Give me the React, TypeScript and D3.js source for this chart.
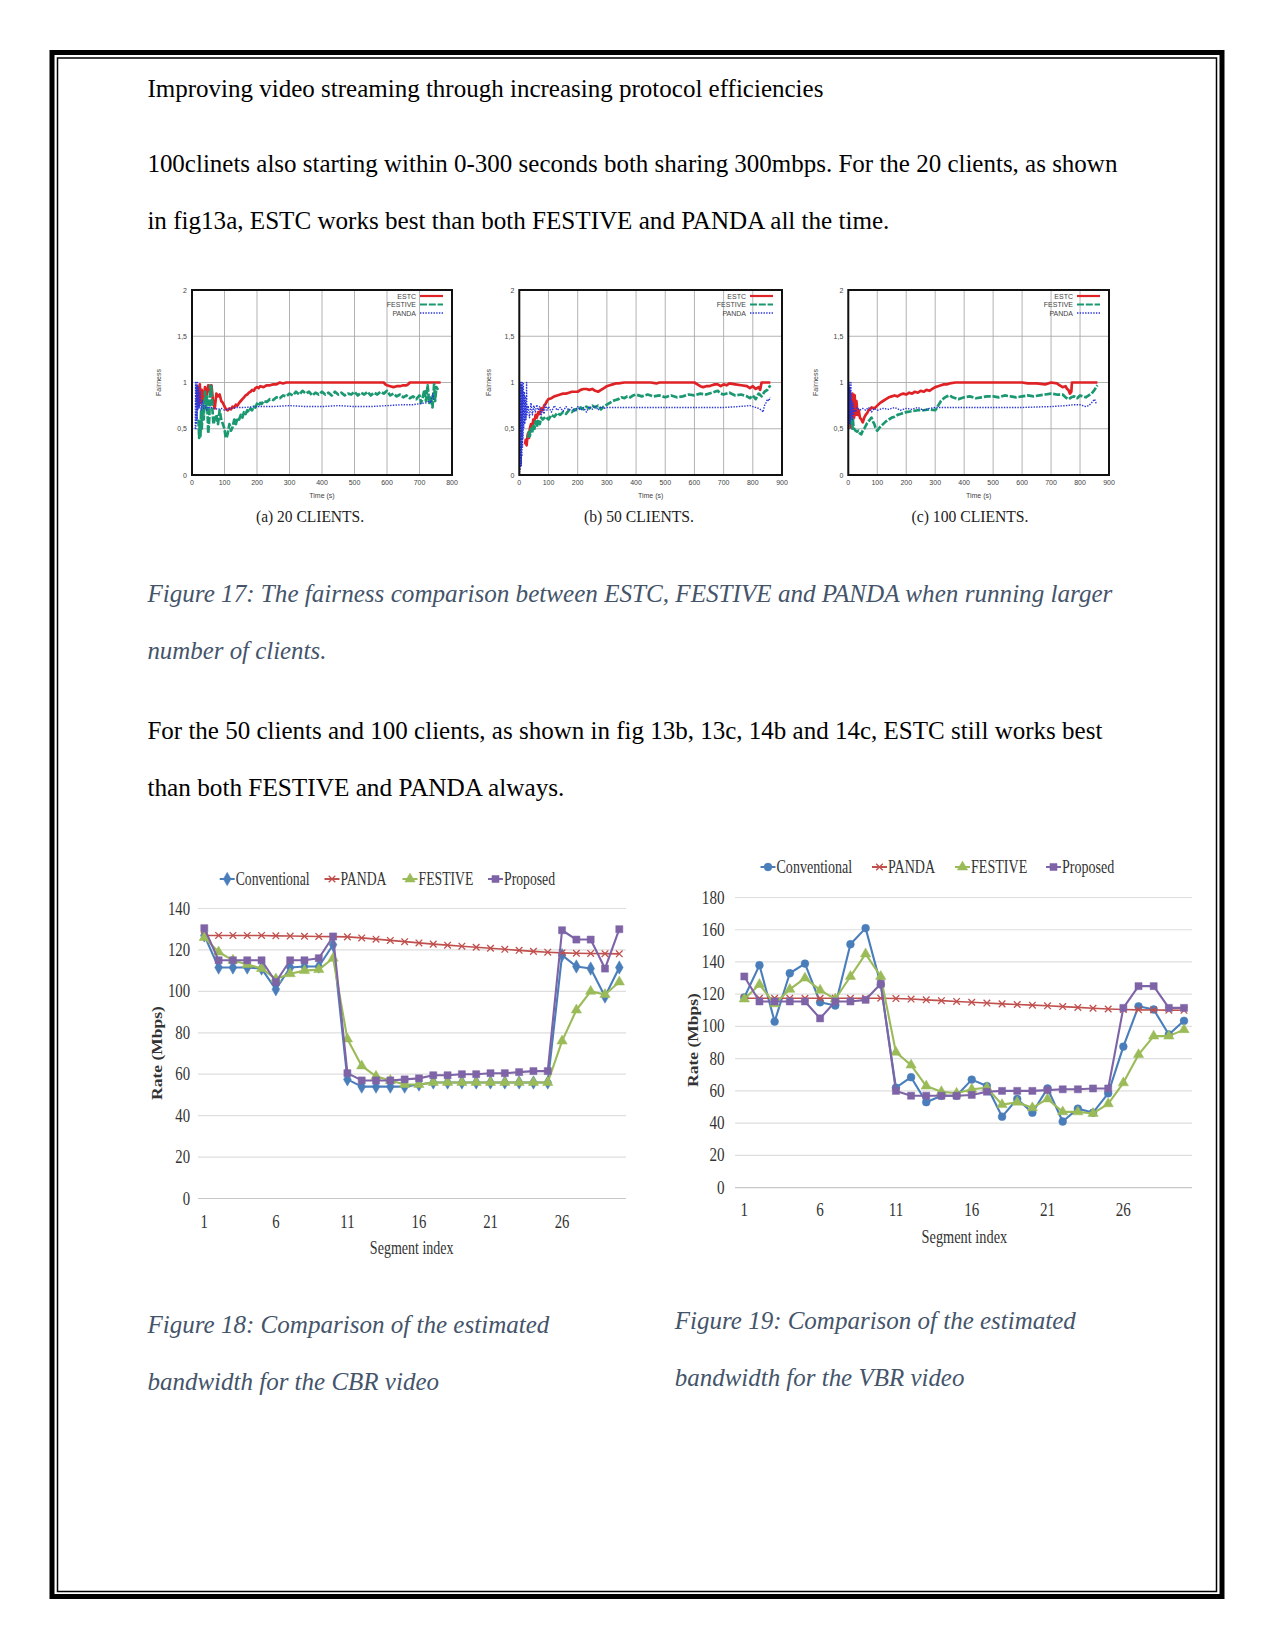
import React from "react";
import * as d3 from "d3";

type Pt = [number, number];

// ---------------- Page text ----------------
const headerText = "Improving video streaming through increasing protocol efficiencies";
const bodyLines1 = [
  "100clinets also starting within 0-300 seconds both sharing 300mbps. For the 20 clients, as shown",
  "in fig13a, ESTC works best than both FESTIVE and PANDA all the time.",
];
const caption17 = [
  "Figure 17: The fairness comparison between ESTC, FESTIVE and PANDA when running larger",
  "number of clients.",
];
const bodyLines2 = [
  "For the 50 clients and 100 clients, as shown in fig 13b, 13c, 14b and 14c, ESTC still works best",
  "than both FESTIVE and PANDA always.",
];
const caption18 = ["Figure 18: Comparison of the estimated", "bandwidth for the CBR video"];
const caption19 = ["Figure 19: Comparison of the estimated", "bandwidth for the VBR video"];

// ---------------- Figure 17 (fairness) ----------------
const fairTicksY = [0, 0.5, 1, 1.5, 2];
const fairTickLabelsY = ["0", "0,5", "1", "1,5", "2"];
const timeTicks800 = [0, 100, 200, 300, 400, 500, 600, 700, 800];
const timeTicks900 = [0, 100, 200, 300, 400, 500, 600, 700, 800, 900];
const fairNames = ["ESTC", "FESTIVE", "PANDA"];
const fairCaptions = ["(a)  20 CLIENTS.", "(b)  50 CLIENTS.", "(c)  100 CLIENTS."];

const aEstc: Pt[] = [[15,0.8],[18,0.95],[21,0.75],[24,0.98],[27,0.78],[30,0.92],[35,0.8],[40,0.95],[45,0.85],[50,0.97],[55,0.9],[60,0.97],[65,0.78],[70,0.72],[75,0.88],[80,0.85],[85,0.87],[90,0.8],[95,0.78],[100,0.74],[105,0.71],[110,0.7],[115,0.72],[120,0.71],[125,0.74],[130,0.73],[135,0.76],[140,0.75],[145,0.78],[150,0.8],[155,0.82],[160,0.84],[165,0.86],[170,0.87],[175,0.89],[180,0.9],[185,0.92],[190,0.91],[195,0.94],[200,0.95],[205,0.94],[210,0.96],[220,0.95],[230,0.97],[240,0.97],[250,0.98],[260,0.98],[270,1.0],[280,0.99],[290,1.0],[300,1.0],[400,1.0],[500,1.0],[590,1.0],[595,0.98],[600,0.97],[610,0.96],[620,0.95],[630,0.96],[640,0.96],[650,0.97],[660,0.97],[665,0.98],[670,1.0],[700,1.0],[740,1.0],[765,1.0]];
const aFestive: Pt[] = [[20,0.6],[22,0.4],[24,0.55],[26,0.42],[28,0.7],[30,0.5],[33,0.75],[36,0.6],[40,0.9],[43,0.72],[46,0.85],[50,0.45],[53,0.6],[56,0.97],[58,0.9],[60,0.95],[63,0.7],[66,0.55],[70,0.6],[75,0.65],[80,0.55],[85,0.7],[90,0.6],[95,0.55],[100,0.5],[103,0.42],[106,0.4],[110,0.45],[115,0.55],[120,0.48],[125,0.52],[130,0.6],[135,0.55],[140,0.62],[145,0.6],[150,0.65],[155,0.62],[160,0.68],[165,0.66],[170,0.7],[175,0.68],[180,0.72],[185,0.7],[190,0.74],[195,0.73],[200,0.77],[205,0.75],[210,0.78],[215,0.77],[220,0.8],[230,0.79],[240,0.82],[250,0.81],[260,0.84],[270,0.83],[280,0.86],[290,0.85],[300,0.88],[310,0.86],[320,0.9],[330,0.87],[340,0.91],[350,0.88],[360,0.9],[370,0.86],[380,0.89],[390,0.87],[400,0.9],[410,0.87],[420,0.89],[430,0.86],[440,0.9],[450,0.87],[460,0.89],[470,0.86],[480,0.88],[490,0.87],[500,0.9],[510,0.86],[520,0.89],[530,0.87],[540,0.9],[550,0.86],[560,0.89],[570,0.87],[580,0.9],[590,0.88],[600,0.91],[610,0.86],[620,0.88],[630,0.85],[640,0.87],[650,0.84],[660,0.86],[670,0.83],[680,0.85],[690,0.82],[700,0.86],[705,0.78],[710,0.84],[715,0.92],[720,0.8],[725,0.97],[730,0.78],[735,0.85],[740,0.73],[745,0.98],[748,0.8],[752,0.95],[757,0.92]];
const aPanda: Pt[] = [[10,0.5],[11,1.0],[12,0.5],[13,1.0],[14,0.55],[15,0.98],[16,0.6],[17,1.0],[18,0.7],[20,0.95],[22,0.72],[25,0.9],[28,0.7],[32,0.8],[36,0.72],[40,0.75],[45,0.7],[50,0.74],[55,0.72],[60,0.73],[70,0.72],[80,0.71],[90,0.72],[100,0.7],[110,0.71],[120,0.72],[140,0.73],[160,0.73],[200,0.74],[250,0.74],[300,0.75],[350,0.74],[400,0.74],[450,0.75],[500,0.74],[550,0.74],[600,0.75],[650,0.76],[680,0.76],[700,0.77],[720,0.78],[730,0.8],[735,0.78],[740,0.88],[745,0.8]];

const bEstc: Pt[] = [[20,0.33],[22,0.38],[25,0.32],[28,0.42],[30,0.45],[33,0.4],[36,0.5],[40,0.55],[44,0.5],[48,0.6],[52,0.58],[56,0.65],[60,0.62],[65,0.68],[70,0.66],[75,0.72],[80,0.7],[85,0.75],[90,0.77],[95,0.8],[100,0.82],[110,0.83],[120,0.85],[130,0.86],[140,0.87],[150,0.88],[160,0.88],[170,0.89],[180,0.9],[190,0.9],[200,0.9],[210,0.92],[220,0.93],[230,0.93],[240,0.92],[250,0.93],[260,0.91],[270,0.9],[280,0.92],[290,0.94],[300,0.96],[310,0.97],[320,0.98],[330,0.99],[340,0.99],[360,1.0],[400,1.0],[450,1.0],[470,0.99],[480,1.0],[550,1.0],[600,1.0],[610,0.98],[620,0.96],[630,0.95],[640,0.96],[650,0.96],[660,0.97],[670,0.98],[680,0.98],[690,0.96],[700,0.98],[710,0.97],[720,0.99],[740,0.98],[760,0.97],[780,0.96],[790,0.94],[800,0.96],[810,0.93],[820,0.95],[825,0.92],[830,1.0],[860,1.0]];
const bFestive: Pt[] = [[30,0.4],[33,0.48],[36,0.42],[40,0.5],[44,0.45],[48,0.55],[52,0.5],[56,0.58],[60,0.52],[65,0.6],[70,0.55],[75,0.62],[80,0.6],[90,0.63],[100,0.6],[110,0.65],[120,0.63],[130,0.67],[140,0.65],[150,0.68],[160,0.66],[170,0.7],[180,0.68],[190,0.71],[200,0.7],[210,0.73],[220,0.71],[230,0.74],[240,0.72],[250,0.75],[260,0.73],[270,0.75],[280,0.71],[290,0.74],[300,0.76],[310,0.78],[320,0.8],[330,0.81],[340,0.82],[350,0.84],[360,0.83],[370,0.85],[380,0.84],[390,0.86],[400,0.87],[420,0.85],[440,0.87],[460,0.85],[480,0.86],[500,0.84],[520,0.86],[540,0.84],[560,0.85],[580,0.87],[600,0.86],[620,0.88],[640,0.87],[660,0.89],[680,0.91],[690,0.88],[700,0.87],[720,0.89],[740,0.86],[760,0.87],[780,0.85],[790,0.83],[800,0.86],[810,0.82],[820,0.88],[830,0.85],[840,0.9],[850,0.92],[860,0.97]];
const bPanda: Pt[] = [[1,0],[2,1],[3,0.05],[4,1],[5,0.1],[6,0.98],[7,0.1],[8,1],[9,0.2],[10,1],[11,0.3],[12,0.95],[13,0.4],[14,1],[15,0.5],[17,0.9],[19,0.55],[21,0.85],[23,0.6],[25,1.0],[26,0.65],[30,0.75],[35,0.62],[40,0.78],[45,0.65],[50,0.75],[55,0.68],[60,0.76],[65,0.7],[70,0.74],[75,0.64],[80,0.72],[85,0.66],[90,0.76],[95,0.7],[100,0.74],[110,0.68],[120,0.75],[130,0.7],[140,0.73],[150,0.69],[160,0.74],[170,0.7],[180,0.73],[190,0.69],[200,0.74],[210,0.7],[220,0.73],[230,0.68],[240,0.74],[250,0.71],[260,0.75],[270,0.7],[280,0.74],[290,0.72],[300,0.73],[400,0.73],[500,0.73],[600,0.73],[700,0.73],[750,0.74],[790,0.75],[800,0.74],[820,0.72],[830,0.7],[835,0.68],[840,0.75],[845,0.78],[850,0.82],[855,0.8],[860,0.84]];

const cEstc: Pt[] = [[8,0.5],[10,0.85],[12,0.55],[14,0.88],[16,0.6],[18,0.87],[20,0.62],[22,0.86],[25,0.65],[28,0.8],[32,0.65],[36,0.7],[40,0.62],[45,0.6],[50,0.57],[55,0.62],[60,0.65],[65,0.67],[70,0.7],[75,0.71],[80,0.73],[90,0.72],[100,0.75],[110,0.78],[120,0.8],[130,0.82],[140,0.84],[150,0.85],[160,0.86],[170,0.85],[180,0.87],[190,0.88],[200,0.87],[210,0.89],[220,0.88],[230,0.9],[240,0.89],[250,0.91],[260,0.9],[270,0.92],[280,0.91],[290,0.93],[300,0.95],[310,0.96],[320,0.97],[330,0.98],[340,0.98],[350,0.99],[370,1.0],[400,1.0],[500,1.0],[600,1.0],[620,0.99],[650,0.99],[680,0.98],[700,1.0],[720,0.99],[730,0.97],[740,0.95],[750,0.96],[755,0.93],[760,0.92],[765,0.88],[770,0.9],[772,1.0],[800,1.0],[860,1.0]];
const cFestive: Pt[] = [[10,0.55],[12,0.62],[14,0.5],[16,0.6],[18,0.52],[20,0.5],[25,0.48],[30,0.47],[35,0.48],[40,0.45],[45,0.44],[50,0.48],[55,0.5],[60,0.53],[65,0.56],[70,0.58],[75,0.6],[80,0.62],[85,0.58],[90,0.55],[95,0.5],[100,0.48],[105,0.5],[110,0.52],[120,0.55],[130,0.58],[140,0.6],[150,0.62],[160,0.63],[170,0.65],[180,0.66],[190,0.67],[200,0.68],[220,0.69],[240,0.7],[260,0.7],[280,0.71],[300,0.7],[305,0.72],[310,0.75],[320,0.8],[330,0.83],[340,0.85],[350,0.86],[360,0.84],[370,0.83],[380,0.82],[390,0.83],[400,0.84],[420,0.85],[440,0.83],[460,0.84],[480,0.85],[500,0.85],[520,0.84],[540,0.86],[560,0.85],[580,0.84],[600,0.85],[620,0.86],[640,0.85],[660,0.86],[680,0.87],[700,0.88],[720,0.87],[740,0.87],[750,0.84],[760,0.82],[770,0.84],[780,0.85],[790,0.83],[800,0.86],[810,0.85],[820,0.84],[830,0.86],[840,0.88],[850,0.92],[860,0.97]];
const cPanda: Pt[] = [[0,0.5],[1,1.0],[2,0.5],[3,1.0],[4,0.55],[5,0.95],[6,0.55],[7,0.9],[8,0.6],[9,1.0],[10,0.65],[12,0.8],[14,0.6],[16,0.78],[18,0.65],[20,0.72],[25,0.68],[30,0.73],[40,0.7],[50,0.72],[60,0.7],[70,0.73],[80,0.68],[90,0.72],[100,0.7],[120,0.72],[140,0.71],[160,0.73],[180,0.7],[200,0.72],[220,0.71],[240,0.73],[260,0.7],[280,0.72],[300,0.73],[400,0.73],[500,0.73],[600,0.73],[700,0.74],[750,0.75],[780,0.76],[800,0.76],[820,0.74],[830,0.75],[840,0.78],[850,0.82],[855,0.78],[860,0.77]];

// ---------------- Figures 18 / 19 (rate) ----------------
const segmentIndex = [1,2,3,4,5,6,7,8,9,10,11,12,13,14,15,16,17,18,19,20,21,22,23,24,25,26,27,28,29,30];
const segmentTicks = [1, 6, 11, 16, 21, 26];
const rateNames = ["Conventional", "PANDA", "FESTIVE", "Proposed"];
const cbrTicks = [0, 20, 40, 60, 80, 100, 120, 140];
const vbrTicks = [0, 20, 40, 60, 80, 100, 120, 140, 160, 180];

const cbrConventional = [127,111.5,111.5,111.5,111,101,111.5,112,112,122.5,57.5,54,54,54,54,55,56,56,56,56,56,56,56,56,56,117.5,112,111,97.5,111.5];
const cbrPanda = [127,127,127,127,127,126.8,126.7,126.6,126.5,126.4,126.3,125.8,125.2,124.6,124,123.4,122.8,122.3,121.8,121.3,120.8,120.3,119.8,119.3,118.9,118.6,118.4,118.3,118.2,118.1];
const cbrFestive = [126,119,115,113,111,106,108.5,110,110.5,116,77,64,59,57,55,55,56,56,56,56,56,56,56,56,56,76,91,100,98.5,104.5];
const cbrProposed = [130.5,115,115,115,115,104.5,115,115,116,126.5,60.5,57,57,57,57.5,58,59.5,59.5,60,60,60.5,60.5,61,61.5,61.5,129.5,125,125,111,130];

const vbrConventional = [118,138,103,133,139,115,113,151,161,126,62,68.5,53,57,57,67,63,44,55,46.5,61.5,41,49,46.5,58.5,87.5,112.5,110.5,95,103.5];
const vbrPanda = [117.5,117.5,117.5,117.5,117.5,117.5,117.5,117.5,117.5,117.5,117.3,117,116.5,116,115.5,115,114.5,114,113.6,113.2,112.8,112.3,111.8,111.3,110.8,110.5,110.3,110.2,110.1,110];
const vbrFestive = [117,126,114,123,130,122.5,117,131,145,131,84,76,63,59.5,58.5,61,62,51.5,53,49.5,55,47,47,46,52,65,82.5,94,94,98];
const vbrProposed = [131,115.5,115.5,115.5,115.5,105,115.5,115.5,116.5,126.5,60,57,57,57,57,57.5,59.5,60,60,60,60.5,61,61,61.5,61.5,111.5,125,125,111.5,111.5];

// ---------------- styles ----------------
const SERIF = "Liberation Serif";
const SANS = "Liberation Sans";
const CAPTION_COLOR = "#44546A";
const FAIR_COLORS = ["#df2226", "#1a9870", "#2b36d8"];
const RATE_COLORS = ["#4A7EBB", "#C0504D", "#9BBB59", "#7E64A6"];

function PageText({ x, y, text, width, italic }: { x: number; y: number; text: string; width: number; italic?: boolean }) {
  return (
    <text
      x={x}
      y={y}
      fontFamily={SERIF}
      fontSize={25}
      fontStyle={italic ? "italic" : "normal"}
      fill={italic ? CAPTION_COLOR : "#000"}
      textLength={width}
      lengthAdjust="spacingAndGlyphs"
    >
      {text}
    </text>
  );
}

type FairProps = {
  l: number; r: number; t: number; b: number;
  tMax: number; ticks: number[];
  estc: Pt[]; festive: Pt[]; panda: Pt[];
  caption: string; capX: number; capW: number; ylabX: number;
};

function Fairness({ l, r, t, b, tMax, ticks, estc, festive, panda, caption, capX, capW, ylabX }: FairProps) {
  const x = d3.scaleLinear().domain([0, tMax]).range([l, r]);
  const y = d3.scaleLinear().domain([0, 2]).range([b, t]);
  const line = d3.line<Pt>().x((d) => x(d[0])).y((d) => y(d[1]));
  const fs = 7;
  const dashes = [undefined, "7 1.8", "1.4 1.3"];
  const widths = [2.7, 2.7, 1.4];
  return (
    <g>
      {ticks.map((v) => (
        <line key={"gx" + v} x1={x(v)} x2={x(v)} y1={t} y2={b} stroke="#aaaaaa" strokeWidth={0.9} />
      ))}
      {fairTicksY.map((v) => (
        <line key={"gy" + v} x1={l} x2={r} y1={y(v)} y2={y(v)} stroke="#aaaaaa" strokeWidth={0.9} />
      ))}
      {[estc, festive, panda].map((s, i) => (
        <path key={"s" + i} d={line(s) || undefined} fill="none" stroke={FAIR_COLORS[i]} strokeWidth={widths[i]} strokeDasharray={dashes[i]} strokeLinejoin="round" />
      ))}
      <rect x={l} y={t} width={r - l} height={b - t} fill="none" stroke="#111" strokeWidth={2} />
      {fairTicksY.map((v, i) => (
        <text key={"ty" + v} x={l - 5} y={y(v) + 2.5} textAnchor="end" fontFamily={SANS} fontSize={fs} fill="#444">
          {fairTickLabelsY[i]}
        </text>
      ))}
      {ticks.map((v) => (
        <text key={"tx" + v} x={x(v)} y={b + 9.5} textAnchor="middle" fontFamily={SANS} fontSize={fs} fill="#444">
          {v}
        </text>
      ))}
      <text x={(l + r) / 2} y={b + 22.5} textAnchor="middle" fontFamily={SANS} fontSize={fs} fill="#444">
        Time (s)
      </text>
      <text transform={`translate(${ylabX},${(t + b) / 2}) rotate(-90)`} textAnchor="middle" fontFamily={SANS} fontSize={fs} fill="#444">
        Fairness
      </text>
      {fairNames.map((n, i) => (
        <g key={"lg" + n}>
          <text x={r - 36} y={t + 8.5 + i * 8.5} textAnchor="end" fontFamily={SANS} fontSize={fs} fill="#444">
            {n}
          </text>
          <line x1={r - 32} x2={r - 9} y1={t + 6 + i * 8.5} y2={t + 6 + i * 8.5} stroke={FAIR_COLORS[i]} strokeWidth={i === 2 ? 1.3 : 2.2} strokeDasharray={dashes[i]} />
        </g>
      ))}
      <text x={capX} y={b + 47} textAnchor="middle" fontFamily={SERIF} fontSize={16} fill="#222" textLength={capW} lengthAdjust="spacingAndGlyphs">
        {caption}
      </text>
    </g>
  );
}

type Marker = "diamond" | "circle" | "triangle" | "square" | "x";

function markerPath(kind: Marker): string {
  if (kind === "x") return "M-3.3,-3.3L3.3,3.3M-3.3,3.3L3.3,-3.3";
  const sym =
    kind === "diamond" ? d3.symbolDiamond : kind === "circle" ? d3.symbolCircle : kind === "triangle" ? d3.symbolTriangle : d3.symbolSquare;
  const size = kind === "diamond" ? 52 : kind === "circle" ? 48 : kind === "triangle" ? 46 : 50;
  return d3.symbol(sym, size)() || "";
}

function Mark({ kind, x, y, color }: { kind: Marker; x: number; y: number; color: string }) {
  const d = markerPath(kind);
  if (kind === "x") return <path d={d} transform={`translate(${x},${y})`} fill="none" stroke={color} strokeWidth={1.3} />;
  return <path d={d} transform={`translate(${x},${y})`} fill={color} stroke={color} strokeWidth={0.5} />;
}

type RateProps = {
  xFirst: number; xLast: number; yZero: number; yTopPx: number; yMax: number; ticks: number[];
  gridL: number; gridR: number; tickRight: number; series: number[][]; markers: Marker[];
  legendXs: number[]; legendY: number; ylabX: number; ylabY: number; xlabY: number; titleX: number; titleY: number; sx: number;
};

function CText({ x, y, sx, anchor, children, size = 18, weight = "normal", fill = "#333" }: any) {
  return (
    <text transform={`translate(${x},${y}) scale(${sx},1)`} textAnchor={anchor} fontFamily={SERIF} fontSize={size} fontWeight={weight} fill={fill}>
      {children}
    </text>
  );
}

function RateChart(p: RateProps) {
  const x = d3.scaleLinear().domain([1, 30]).range([p.xFirst, p.xLast]);
  const y = d3.scaleLinear().domain([0, p.yMax]).range([p.yZero, p.yTopPx]);
  const line = d3.line<number>().x((_, i) => x(segmentIndex[i])).y((d) => y(d));
  return (
    <g>
      {p.ticks.map((v) => (
        <line key={"g" + v} x1={p.gridL} x2={p.gridR} y1={y(v)} y2={y(v)} stroke={v === 0 ? "#c8c8c8" : "#dedede"} strokeWidth={1.2} />
      ))}
      {p.ticks.map((v) => (
        <CText key={"t" + v} x={p.tickRight} y={y(v) + 6} sx={p.sx} anchor="end">
          {v}
        </CText>
      ))}
      {segmentTicks.map((s) => (
        <CText key={"s" + s} x={x(s)} y={p.xlabY} sx={p.sx} anchor="middle">
          {s}
        </CText>
      ))}
      <CText x={p.titleX} y={p.titleY} sx={p.sx * 0.95} anchor="middle">
        Segment index
      </CText>
      <text
        transform={`translate(${p.ylabX},${p.ylabY}) scale(${p.sx},1) rotate(-90)`}
        textAnchor="middle"
        fontFamily={SERIF}
        fontSize={17.5}
        fontWeight="bold"
        fill="#333"
      >
        Rate (Mbps)
      </text>
      {p.series.map((s, i) => (
        <g key={"ser" + i}>
          <path d={line(s) || undefined} fill="none" stroke={RATE_COLORS[i]} strokeWidth={i === 1 ? 1.6 : 2.1} strokeLinejoin="round" />
          {s.map((v, j) => (
            <Mark key={j} kind={p.markers[i]} x={x(segmentIndex[j])} y={y(v)} color={RATE_COLORS[i]} />
          ))}
        </g>
      ))}
      {rateNames.map((n, i) => (
        <g key={"lg" + n}>
          <line x1={p.legendXs[i] - 16} x2={p.legendXs[i] - 1} y1={p.legendY - 6} y2={p.legendY - 6} stroke={RATE_COLORS[i]} strokeWidth={2} />
          <Mark kind={p.markers[i]} x={p.legendXs[i] - 8.5} y={p.legendY - 6} color={RATE_COLORS[i]} />
          <CText x={p.legendXs[i]} y={p.legendY} sx={p.sx * 0.93} anchor="start">
            {n}
          </CText>
        </g>
      ))}
    </g>
  );
}

export default function App() {
  return (
    <svg
      width={1275}
      height={1651}
      viewBox="0 0 1275 1651"
      style={{ position: "absolute", left: 0, top: 0, background: "#fff" }}
    >
      <rect x={0} y={0} width={1275} height={1651} fill="#fff" />
      <rect x={52} y={52.5} width={1170} height={1544} fill="none" stroke="#000" strokeWidth={5} />
      <rect x={57.5} y={58} width={1159} height={1533.5} fill="none" stroke="#000" strokeWidth={1.5} />

      <PageText x={147.4} y={97} text={headerText} width={676} />
      <PageText x={147.4} y={171.5} text={bodyLines1[0]} width={970} />
      <PageText x={147.4} y={228.5} text={bodyLines1[1]} width={742} />

      <Fairness l={192} r={452} t={290} b={475} tMax={800} ticks={timeTicks800} estc={aEstc} festive={aFestive} panda={aPanda} caption={fairCaptions[0]} capX={310} capW={108} ylabX={160.5} />
      <Fairness l={519.3} r={782} t={290} b={475} tMax={900} ticks={timeTicks900} estc={bEstc} festive={bFestive} panda={bPanda} caption={fairCaptions[1]} capX={639} capW={110} ylabX={490.5} />
      <Fairness l={848.3} r={1109} t={290} b={475} tMax={900} ticks={timeTicks900} estc={cEstc} festive={cFestive} panda={cPanda} caption={fairCaptions[2]} capX={970} capW={117} ylabX={817.5} />

      <PageText x={147.4} y={602} text={caption17[0]} width={965} italic />
      <PageText x={147.4} y={659} text={caption17[1]} width={179} italic />

      <PageText x={147.4} y={739} text={bodyLines2[0]} width={955} />
      <PageText x={147.4} y={796} text={bodyLines2[1]} width={417} />

      <RateChart
        xFirst={204.3} xLast={619.3} yZero={1198.5} yTopPx={908.5} yMax={140} ticks={cbrTicks}
        gridL={198} gridR={626} tickRight={190}
        series={[cbrConventional, cbrPanda, cbrFestive, cbrProposed]}
        markers={["diamond", "x", "triangle", "square"]}
        legendXs={[235.7, 340.5, 418.5, 504]} legendY={885}
        ylabX={162} ylabY={1053} xlabY={1227.5} titleX={411.7} titleY={1253.5} sx={0.82}
      />
      <RateChart
        xFirst={744.3} xLast={1184} yZero={1187.6} yTopPx={897.5} yMax={180} ticks={vbrTicks}
        gridL={735} gridR={1192} tickRight={724.5}
        series={[vbrConventional, vbrPanda, vbrFestive, vbrProposed]}
        markers={["circle", "x", "triangle", "square"]}
        legendXs={[776.5, 888, 971, 1062]} legendY={873}
        ylabX={697.5} ylabY={1040} xlabY={1216} titleX={964.4} titleY={1243} sx={0.84}
      />

      <PageText x={147.4} y={1333} text={caption18[0]} width={402} italic />
      <PageText x={147.4} y={1390} text={caption18[1]} width={291.6} italic />
      <PageText x={674.8} y={1329} text={caption19[0]} width={401} italic />
      <PageText x={674.8} y={1386} text={caption19[1]} width={289.6} italic />
    </svg>
  );
}
